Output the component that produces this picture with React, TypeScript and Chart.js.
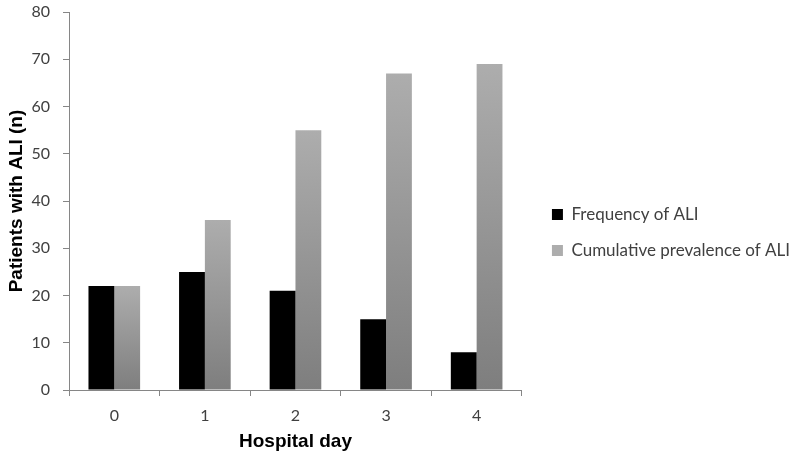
import React, { useEffect, useRef } from "react";
import { Chart, registerables } from "chart.js";

Chart.register(...registerables);

const categories = ["0", "1", "2", "3", "4"];
const frequencyOfALI = [22, 25, 21, 15, 8];
const cumulativePrevalence = [22, 36, 55, 67, 69];
const seriesNames = ["Frequency of ALI", "Cumulative prevalence of ALI"];
const yTicks = [0, 10, 20, 30, 40, 50, 60, 70, 80];
const xTitle = "Hospital day";
const yTitle = "Patients with ALI (n)";

export default function App() {
  const ref = useRef<HTMLCanvasElement | null>(null);

  useEffect(() => {
    if (!ref.current) return;
    const greyGradient = (c: any) => {
      const chart = c.chart;
      const y = chart.scales?.y;
      if (c.type !== "data" || !y || !chart.chartArea) return "#a3a3a3";
      const top = y.getPixelForValue(c.raw);
      const bot = y.getPixelForValue(0);
      const g = chart.ctx.createLinearGradient(0, top, 0, bot);
      g.addColorStop(0, "#adadad");
      g.addColorStop(1, "#7e7e7e");
      return g;
    };
    const chart = new Chart(ref.current, {
      type: "bar",
      data: {
        labels: categories,
        datasets: [
          {
            label: seriesNames[0],
            data: frequencyOfALI,
            backgroundColor: "#000000",
            borderWidth: 0,
          },
          {
            label: seriesNames[1],
            data: cumulativePrevalence,
            backgroundColor: greyGradient,
            borderWidth: 0,
          },
        ],
      },
      options: {
        animation: false,
        responsive: true,
        maintainAspectRatio: false,
        layout: { padding: { top: 0, left: 0, right: 0, bottom: 0 } },
        datasets: { bar: { categoryPercentage: 0.57, barPercentage: 1 } },
        plugins: {
          tooltip: { enabled: false },
          legend: {
            position: "right",
            align: "center",
            maxWidth: 400,
            title: { display: true, text: "", font: { size: 5 }, padding: { top: 2, bottom: 0 } },
            labels: {
              boxWidth: 11,
              boxHeight: 11,
              padding: 19,
              color: "#404040",
              font: { family: "Lato", size: 17 },
            },
          },
        },
        scales: {
          x: {
            grid: { display: true, drawOnChartArea: false, drawTicks: true, tickLength: 6, color: "#868686", offset: true },
            border: { display: true, color: "#868686", width: 1 },
            ticks: { color: "#404040", font: { family: "Lato", size: 16 }, padding: 10 },
            title: {
              display: true,
              text: xTitle,
              color: "#000000",
              font: { family: "Liberation Sans", size: 19, weight: "bold" },
              padding: { top: 8 },
            },
            afterFit: (s: any) => {
              s.height = 67;
            },
          },
          y: {
            min: 0,
            max: 80,
            afterBuildTicks: (s: any) => {
              s.ticks = yTicks.map((v) => ({ value: v }));
            },
            grid: { display: true, drawOnChartArea: false, drawTicks: true, tickLength: 6, color: "#868686" },
            border: { display: true, color: "#868686", width: 1 },
            ticks: { color: "#404040", font: { family: "Lato", size: 16 }, padding: 13 },
            title: {
              display: true,
              text: yTitle,
              color: "#000000",
              font: { family: "Liberation Sans", size: 19, weight: "bold" },
              padding: { top: 5, bottom: 0 },
            },
            afterFit: (s: any) => {
              s.width = 69;
              s.paddingTop = 12;
              s.paddingBottom = 0;
            },
          },
          spacer: {
            type: "linear",
            position: "right",
            display: true,
            grid: { display: false },
            border: { display: false },
            ticks: { display: false },
            afterFit: (s: any) => {
              s.width = 11;
              s.paddingTop = 0;
              s.paddingBottom = 0;
            },
          },
        },
      } as any,
    });
    return () => chart.destroy();
  }, []);

  return (
    <div style={{ position: "absolute", left: 0, top: 0, width: 800, height: 457, background: "#fff" }}>
      <canvas ref={ref} />
    </div>
  );
}
